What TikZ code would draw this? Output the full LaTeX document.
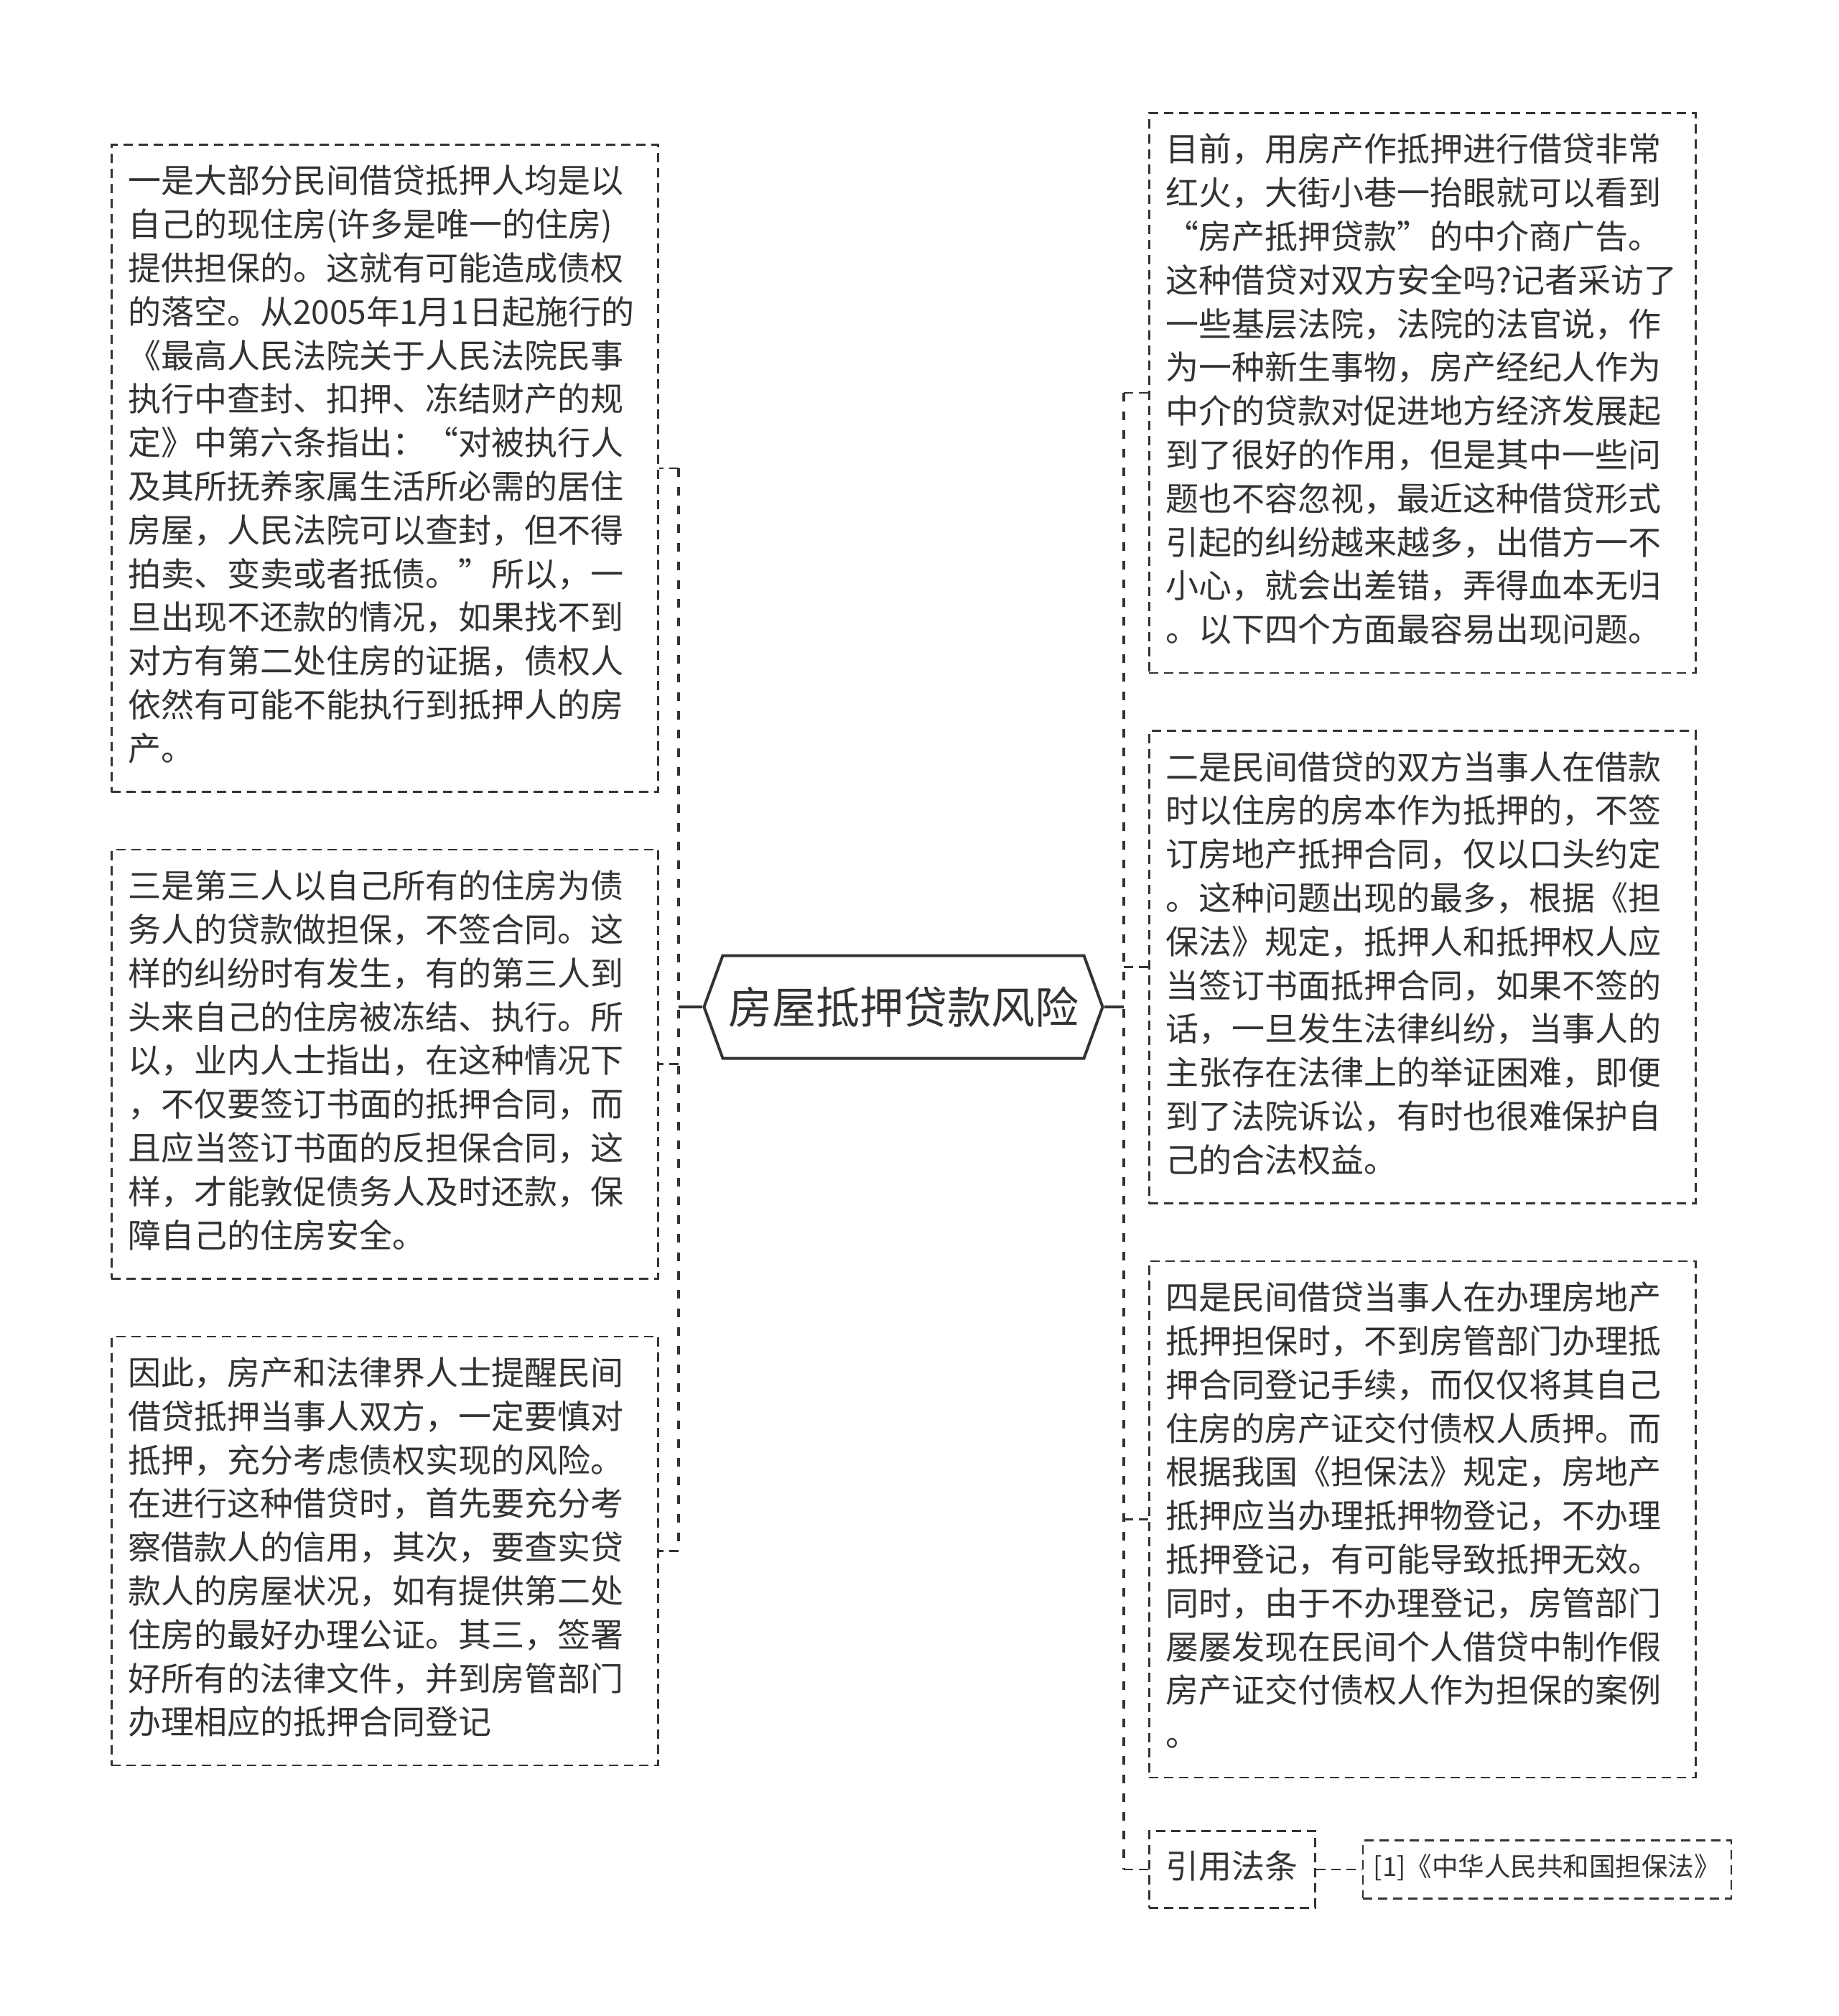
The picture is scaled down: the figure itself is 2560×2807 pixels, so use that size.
\documentclass[tikz,border=0pt]{standalone}
\usepackage{fontspec}
\setmainfont{Noto Sans CJK SC}
\usetikzlibrary{positioning,shapes.symbols}
\definecolor{ink}{HTML}{333333}

\begin{document}
\begin{tikzpicture}[
    x=1pt, y=1pt,
    node distance=78pt,
    boxline/.style={draw=ink, line width=2.6pt, dash pattern=on 13pt off 8pt, fill=white, text=ink},
    note/.style={boxline, rectangle, text width=715pt, align=left, inner xsep=23pt, inner ysep=25pt, font=\fontsize{46pt}{60.8pt}\selectfont, execute at begin node=\strut, execute at end node=\strut},
    cite/.style={boxline, rectangle, inner xsep=23.5pt, inner ysep=23pt, font=\fontsize{46pt}{60.8pt}\selectfont, execute at begin node=\strut},
    ref/.style={boxline, rectangle, inner xsep=15pt, inner ysep=15.5pt, font=\fontsize{36.5pt}{50pt}\selectfont, execute at begin node=\strut},
    topic/.style={signal, signal to=west and east, signal pointer angle=140, draw=ink, line width=4pt, fill=white, text=ink, minimum width=555pt, minimum height=143pt, inner sep=0pt, font=\fontsize{61pt}{70pt}\selectfont},
    trunk/.style={draw=ink, line width=4pt},
    bus/.style={draw=ink, line width=4.5pt, dash pattern=on 12pt off 14pt},
    link/.style={draw=ink, line width=2.6pt, dash pattern=on 13pt off 8pt}
]
\useasboundingbox (0,0) rectangle (2560,-2807);
\fill[white] (0,0) rectangle (2560,-2807);

% Nodes
\node[topic] (root) at (1258,-1402) {房屋抵押贷款风险};

\node[note, anchor=north west] (lbox1) at (154,-200) {一是大部分民间借贷抵押人均是以\\
自己的现住房(许多是唯一的住房)\\
提供担保的。这就有可能造成债权\\
的落空。从2005年1月1日起施行的\\
《最高人民法院关于人民法院民事\\
执行中查封、扣押、冻结财产的规\\
定》中第六条指出：“对被执行人\\
及其所抚养家属生活所必需的居住\\
房屋，人民法院可以查封，但不得\\
拍卖、变卖或者抵债。”所以，一\\
旦出现不还款的情况，如果找不到\\
对方有第二处住房的证据，债权人\\
依然有可能不能执行到抵押人的房\\
产。};
\node[note, below=of lbox1] (lbox2) {三是第三人以自己所有的住房为债\\
务人的贷款做担保，不签合同。这\\
样的纠纷时有发生，有的第三人到\\
头来自己的住房被冻结、执行。所\\
以，业内人士指出，在这种情况下\\
，不仅要签订书面的抵押合同，而\\
且应当签订书面的反担保合同，这\\
样，才能敦促债务人及时还款，保\\
障自己的住房安全。};
\node[note, below=of lbox2] (lbox3) {因此，房产和法律界人士提醒民间\\
借贷抵押当事人双方，一定要慎对\\
抵押，充分考虑债权实现的风险。\\
在进行这种借贷时，首先要充分考\\
察借款人的信用，其次，要查实贷\\
款人的房屋状况，如有提供第二处\\
住房的最好办理公证。其三，签署\\
好所有的法律文件，并到房管部门\\
办理相应的抵押合同登记};

\node[note, anchor=north west] (rbox1) at (1599,-156) {目前，用房产作抵押进行借贷非常\\
红火，大街小巷一抬眼就可以看到\\
“房产抵押贷款”的中介商广告。\\
这种借贷对双方安全吗?记者采访了\\
一些基层法院，法院的法官说，作\\
为一种新生事物，房产经纪人作为\\
中介的贷款对促进地方经济发展起\\
到了很好的作用，但是其中一些问\\
题也不容忽视，最近这种借贷形式\\
引起的纠纷越来越多，出借方一不\\
小心，就会出差错，弄得血本无归\\
。以下四个方面最容易出现问题。};
\node[note, below=of rbox1] (rbox2) {二是民间借贷的双方当事人在借款\\
时以住房的房本作为抵押的，不签\\
订房地产抵押合同，仅以口头约定\\
。这种问题出现的最多，根据《担\\
保法》规定，抵押人和抵押权人应\\
当签订书面抵押合同，如果不签的\\
话，一旦发生法律纠纷，当事人的\\
主张存在法律上的举证困难，即便\\
到了法院诉讼，有时也很难保护自\\
己的合法权益。};
\node[note, below=of rbox2] (rbox3) {四是民间借贷当事人在办理房地产\\
抵押担保时，不到房管部门办理抵\\
押合同登记手续，而仅仅将其自己\\
住房的房产证交付债权人质押。而\\
根据我国《担保法》规定，房地产\\
抵押应当办理抵押物登记，不办理\\
抵押登记，有可能导致抵押无效。\\
同时，由于不办理登记，房管部门\\
屡屡发现在民间个人借贷中制作假\\
房产证交付债权人作为担保的案例\\
。};
\node[cite, below=72pt of rbox3.south west, anchor=north west] (cite) {引用法条};
\node[ref, right=64pt of cite] (law) {[1]《中华人民共和国担保法》};

% Connectors
\coordinate (lbus) at (945,-1402);
\coordinate (rbus) at (1565,-1402);
\draw[trunk] (root.west) -- (lbus);
\draw[trunk] (root.east) -- (rbus);
\draw[bus] (lbus |- lbox1.east) -- (lbus |- lbox3.east);
\draw[bus] (rbus |- rbox1.west) -- (rbus |- cite.west);
\foreach \b in {lbox1,lbox2,lbox3}
    \draw[link] (lbus |- \b.east) -- (\b.east);
\foreach \b in {rbox1,rbox2,rbox3,cite}
    \draw[link] (rbus |- \b.west) -- (\b.west);
\draw[link] (cite) -- (law);

\end{tikzpicture}
\end{document}
